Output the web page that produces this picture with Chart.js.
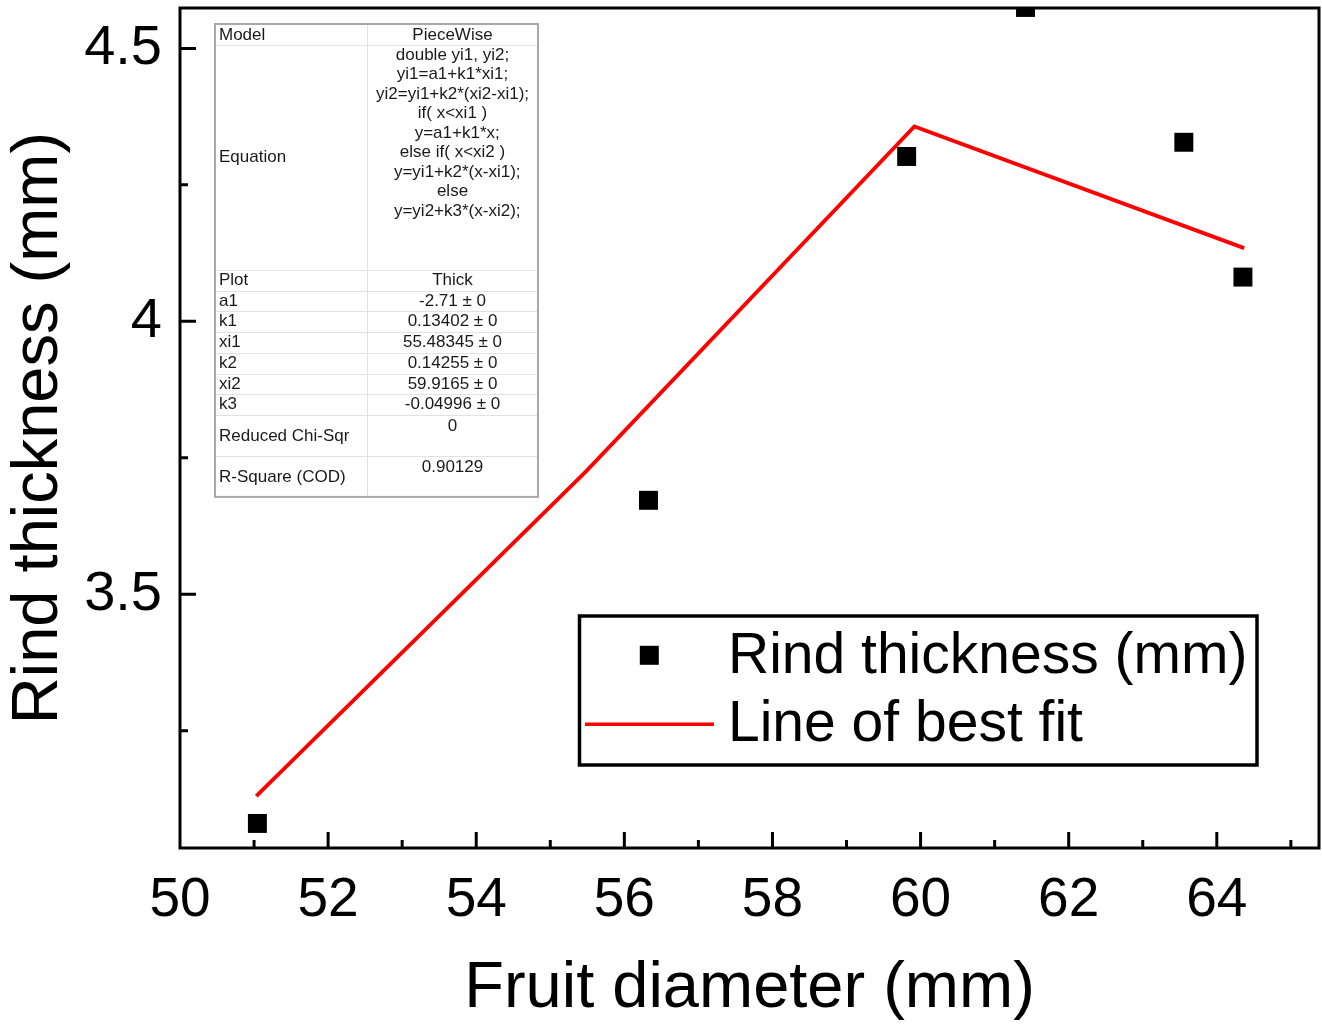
<!DOCTYPE html>
<html lang="en">
    <head>
        <meta charset="UTF-8">
        <title>Rind thickness vs fruit diameter</title>
        <style>
            body { margin: 0; background: #fff; }
        </style>
    </head>
    <body>
        <canvas id="myChart" width="1322" height="1025"></canvas>
        <script src="https://cdn.jsdelivr.net/npm/chart.js@4.4.1/dist/chart.umd.min.js"></script>
        <script>
            // measured fruit
            const diameter = [51.045, 56.326, 59.812, 61.417, 63.555, 64.353];
            const thickness = [3.080, 3.672, 4.302, 4.575, 4.328, 4.081];

            // piecewise fit, breakpoints at xi1 and xi2
            const fitX = [51.03, 55.483, 59.917, 64.37];
            const fitY = [3.130, 3.725, 4.357, 4.134];

            const xTicks = [50, 52, 54, 56, 58, 60, 62, 64];
            const xMinor = [51, 53, 55, 57, 59, 61, 63, 65];
            const yTicks = [3.5, 4, 4.5];
            const yMinor = [3.25, 3.75, 4.25];

            const seriesLabels = ['Rind thickness (mm)', 'Line of best fit'];

            // fit report table
            const modelRow = ['Model', 'PieceWise'];
            const equationLines = [
                'double yi1, yi2;',
                'yi1=a1+k1*xi1;',
                'yi2=yi1+k2*(xi2-xi1);',
                'if( x<xi1 )',
                '  y=a1+k1*x;',
                'else if( x<xi2 )',
                '  y=yi1+k2*(x-xi1);',
                'else',
                '  y=yi2+k3*(x-xi2);'
            ];
            const paramNames = ['Plot', 'a1', 'k1', 'xi1', 'k2', 'xi2', 'k3'];
            const paramValues = ['Thick', '-2.71 \u00b1 0', '0.13402 \u00b1 0', '55.48345 \u00b1 0', '0.14255 \u00b1 0', '59.9165 \u00b1 0', '-0.04996 \u00b1 0'];
            const statNames = ['Reduced Chi-Sqr', 'R-Square (COD)'];
            const statValues = ['0', '0.90129'];

            const FONT = '"Liberation Sans", Arial, sans-serif';

            // keep the plot box fixed: no extra room for edge labels
            function noPadding(scale) {
                scale.paddingTop = 0;
                scale.paddingBottom = 0;
                scale.paddingLeft = 0;
                scale.paddingRight = 0;
            }

            const framePlugin = {
                id: 'frame',
                afterDatasetsDraw(chart) {
                    const ctx = chart.ctx;
                    const a = chart.chartArea;
                    const xs = chart.scales.x, ys = chart.scales.y;
                    ctx.save();
                    ctx.strokeStyle = '#000';
                    ctx.lineWidth = 3;
                    ctx.strokeRect(a.left, a.top, a.right - a.left, a.bottom - a.top);
                    ctx.beginPath();
                    xTicks.concat(xMinor).forEach(function (v) {
                        if (v <= xs.min || v >= xs.max) return;
                        var px = xs.getPixelForValue(v);
                        var len = xTicks.includes(v) ? 16 : 8;
                        ctx.moveTo(px, a.bottom);
                        ctx.lineTo(px, a.bottom - len);
                    });
                    yTicks.concat(yMinor).forEach(function (v) {
                        if (v <= ys.min || v >= ys.max) return;
                        var py = ys.getPixelForValue(v);
                        var len = yTicks.includes(v) ? 16 : 8;
                        ctx.moveTo(a.left, py);
                        ctx.lineTo(a.left + len, py);
                    });
                    ctx.stroke();
                    ctx.restore();
                }
            };

            const legendBox = {
                id: 'legendBox',
                afterDraw(chart) {
                    const ctx = chart.ctx;
                    const a = chart.chartArea;
                    const x0 = a.left + 399.5, y0 = a.top + 608;
                    ctx.save();
                    ctx.fillStyle = '#fff';
                    ctx.fillRect(x0, y0, 677.5, 149);
                    ctx.strokeStyle = '#000';
                    ctx.lineWidth = 3.5;
                    ctx.strokeRect(x0, y0, 677.5, 149);

                    ctx.fillStyle = '#000';
                    ctx.fillRect(a.left + 469.3 - 9.5, a.top + 647.3 - 9.5, 19, 19);

                    ctx.strokeStyle = '#ff0000';
                    ctx.lineWidth = 3.5;
                    ctx.beginPath();
                    ctx.moveTo(a.left + 405, a.top + 716.3);
                    ctx.lineTo(a.left + 534, a.top + 716.3);
                    ctx.stroke();

                    ctx.fillStyle = '#000';
                    ctx.font = '57px ' + FONT;
                    ctx.textBaseline = 'middle';
                    ctx.textAlign = 'left';
                    ctx.fillText(seriesLabels[0], a.left + 548, a.top + 649);
                    ctx.fillText(seriesLabels[1], a.left + 548, a.top + 717);
                    ctx.restore();
                }
            };

            const fitTable = {
                id: 'fitTable',
                afterDraw(chart) {
                    const ctx = chart.ctx;
                    const a = chart.chartArea;
                    const left = a.left + 35, top = a.top + 16;
                    const w = 323, colX = left + 152;
                    const midX = (colX + left + w) / 2;
                    const rowH = 20.7;

                    // row boundaries
                    var edges = [top, top + 21, top + 246];
                    for (var i = 1; i <= paramNames.length; i++) edges.push(top + 246 + i * rowH);
                    var last = edges[edges.length - 1];
                    edges.push(last + 41, last + 82);
                    const bottom = edges[edges.length - 1];

                    ctx.save();
                    ctx.fillStyle = '#fff';
                    ctx.fillRect(left, top, w, bottom - top);

                    ctx.strokeStyle = '#e2e2e2';
                    ctx.lineWidth = 1;
                    ctx.beginPath();
                    for (var j = 1; j < edges.length - 1; j++) {
                        ctx.moveTo(left, Math.round(edges[j]) + 0.5);
                        ctx.lineTo(left + w, Math.round(edges[j]) + 0.5);
                    }
                    ctx.moveTo(colX + 0.5, top);
                    ctx.lineTo(colX + 0.5, bottom);
                    ctx.stroke();

                    ctx.strokeStyle = '#a8a8a8';
                    ctx.lineWidth = 2;
                    ctx.strokeRect(left, top, w, bottom - top);

                    ctx.fillStyle = '#1a1a1a';
                    ctx.font = '17px ' + FONT;
                    ctx.textBaseline = 'middle';

                    function row(name, value, yName, yValue) {
                        ctx.textAlign = 'left';
                        ctx.fillText(name, left + 4, yName);
                        ctx.textAlign = 'center';
                        ctx.fillText(value, midX, yValue);
                    }

                    row(modelRow[0], modelRow[1], top + 11, top + 11);

                    ctx.textAlign = 'left';
                    ctx.fillText('Equation', left + 4, (edges[1] + edges[2]) / 2);
                    ctx.textAlign = 'center';
                    equationLines.forEach(function (line, k) {
                        ctx.fillText(line, midX, top + 31 + k * 19.5);
                    });

                    paramNames.forEach(function (name, k) {
                        var cy = (edges[2 + k] + edges[3 + k]) / 2;
                        row(name, paramValues[k], cy, cy);
                    });

                    statNames.forEach(function (name, k) {
                        var t = edges[2 + paramNames.length + k];
                        row(name, statValues[k], t + 21, t + 11);
                    });
                    ctx.restore();
                }
            };

            var ctx = document.getElementById('myChart').getContext('2d');
            new Chart(ctx, {
                type: 'scatter',
                data: {
                    datasets: [
                        {
                            label: seriesLabels[1],
                            data: fitX.map(function (x, i) { return { x: x, y: fitY[i] }; }),
                            showLine: true,
                            borderColor: '#ff0000',
                            borderWidth: 3.8,
                            pointRadius: 0,
                            tension: 0
                        },
                        {
                            label: seriesLabels[0],
                            data: diameter.map(function (x, i) { return { x: x, y: thickness[i] }; }),
                            pointStyle: 'rect',
                            pointRadius: 13.4,
                            backgroundColor: '#000',
                            borderWidth: 0,
                            clip: 0
                        }
                    ]
                },
                options: {
                    responsive: false,
                    animation: false,
                    layout: { autoPadding: false, padding: { top: 8, right: 3, left: 0, bottom: 0 } },
                    plugins: {
                        legend: { display: false },
                        tooltip: { enabled: false }
                    },
                    scales: {
                        x: {
                            type: 'linear',
                            min: 50,
                            max: 65.38,
                            afterBuildTicks: function (scale) {
                                scale.ticks = xTicks.map(function (v) { return { value: v }; });
                            },
                            afterFit: function (scale) { scale.height = 177; noPadding(scale); },
                            grid: { display: false, drawTicks: false },
                            border: { display: false },
                            ticks: {
                                color: '#000',
                                font: { family: FONT, size: 55 },
                                padding: 20,
                                maxRotation: 0,
                                autoSkip: false
                            },
                            title: {
                                display: true,
                                text: 'Fruit diameter (mm)',
                                color: '#000',
                                font: { family: FONT, size: 65, lineHeight: 1.1 },
                                padding: 0
                            }
                        },
                        y: {
                            min: 3.035,
                            max: 4.574,
                            afterBuildTicks: function (scale) {
                                scale.ticks = yTicks.map(function (v) { return { value: v }; });
                            },
                            afterFit: function (scale) { scale.width = 180; noPadding(scale); },
                            grid: { display: false, drawTicks: false },
                            border: { display: false },
                            ticks: {
                                color: '#000',
                                font: { family: FONT, size: 56 },
                                padding: 18,
                                autoSkip: false,
                                callback: function (v) { return String(v); }
                            },
                            title: {
                                display: true,
                                text: 'Rind thickness (mm)',
                                color: '#000',
                                font: { family: FONT, size: 65, lineHeight: 1.2 },
                                padding: 0
                            }
                        }
                    }
                },
                plugins: [framePlugin, legendBox, fitTable]
            });
        </script>
    </body>
</html>
